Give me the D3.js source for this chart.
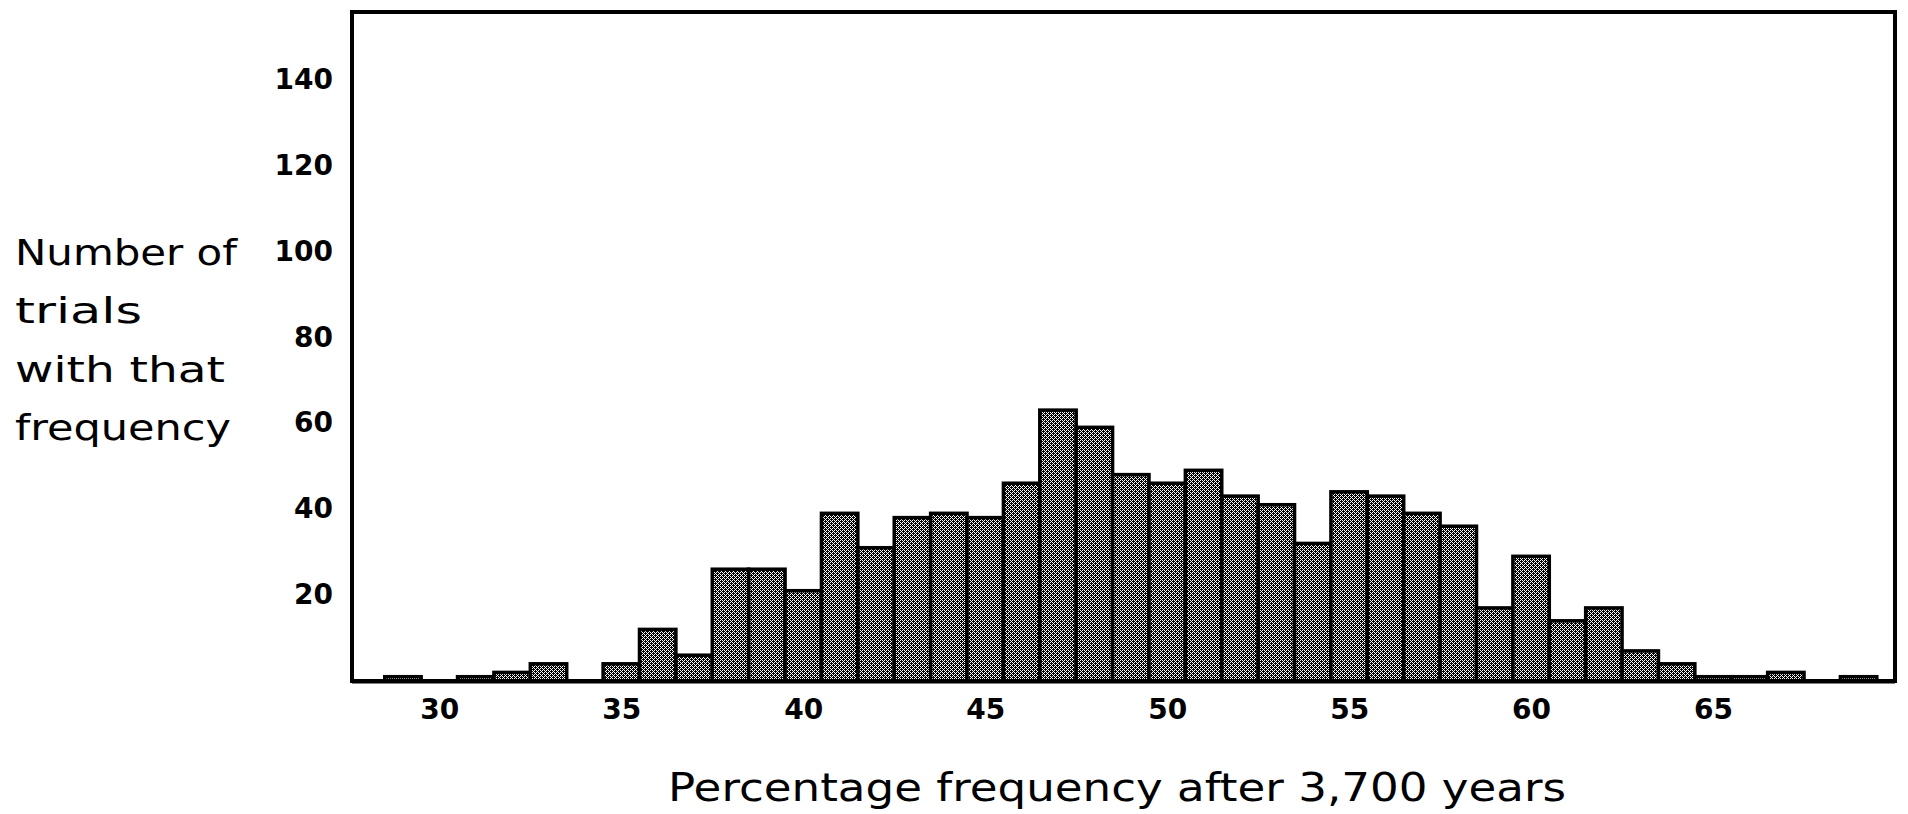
<!DOCTYPE html>
<html><head><meta charset="utf-8">
<script src="https://cdn.jsdelivr.net/npm/d3@7"></script>
<style>html,body{margin:0;padding:0;background:#fff;overflow:hidden}</style>
</head><body><svg id="chart" width="1908" height="814"></svg>
<script>
// ---- data ----
const binCenters = [28,29,30,31,32,33,34,35,36,37,38,39,40,41,42,43,44,45,46,47,48,49,50,51,52,53,54,55,56,57,58,59,60,61,62,63,64,65,66,67,68,69,70];
const trialCounts = [0,1,0,1,2,4,0,4,12,6,26,26,21,39,31,38,39,38,46,63,59,48,46,49,43,41,32,44,43,39,36,17,29,14,17,7,4,1,1,2,0,1,0];
const yTickValues = [20,40,60,80,100,120,140];
const xTickValues = [30,35,40,45,50,55,60,65];
const yTitleLines = ["Number of","trials","with that","frequency"];
const xTitle = "Percentage frequency after 3,700 years";

// ---- layout ----
const frame = {left:352, right:1895, top:12, bottom:681};
const svg = d3.select("#chart");
const x = d3.scaleLinear().domain([27.6, 70]).range([frame.left, frame.right]);
const y = d3.scaleLinear().domain([0, 155.6]).range([frame.bottom, frame.top]);

const defs = svg.append("defs");
const pat = defs.append("pattern").attr("id","dither")
  .attr("patternUnits","userSpaceOnUse").attr("width",4).attr("height",4);
pat.append("rect").attr("width",4).attr("height",4).attr("fill","#000");
const whitePix = [[0,0],[2,0],[3,1],[0,2],[2,2],[1,3]];
pat.selectAll("rect.w").data(whitePix).join("rect").attr("class","w")
  .attr("x",d=>d[0]).attr("y",d=>d[1]).attr("width",1).attr("height",1).attr("fill","#fff");

defs.append("clipPath").attr("id","plotclip").append("rect")
  .attr("x",frame.left).attr("y",frame.top)
  .attr("width",frame.right-frame.left).attr("height",frame.bottom-frame.top+3);

const data = binCenters.map((c,i)=>({c, v:trialCounts[i]}));

svg.append("g").attr("clip-path","url(#plotclip)")
  .selectAll("rect").data(data).join("rect")
  .attr("x", d=>x(d.c-0.5))
  .attr("width", d=>x(d.c+0.5)-x(d.c-0.5))
  .attr("y", d=>y(d.v))
  .attr("height", d=>y(0)-y(d.v))
  .attr("fill","url(#dither)")
  .attr("stroke","#000").attr("stroke-width",3.5);

// frame
svg.append("rect")
  .attr("x",frame.left).attr("y",frame.top)
  .attr("width",frame.right-frame.left).attr("height",frame.bottom-frame.top)
  .attr("fill","none").attr("stroke","#000").attr("stroke-width",4);
svg.append("line").attr("x1",frame.left).attr("x2",frame.right)
  .attr("y1",frame.bottom+1).attr("y2",frame.bottom+1)
  .attr("stroke","#000").attr("stroke-width",3);

const tickFont = "'DejaVu Sans', sans-serif";
// y axis
const yAxis = svg.append("g").attr("transform",`translate(${frame.left},0)`)
  .call(d3.axisLeft(y).tickValues(yTickValues).tickSize(0).tickPadding(19));
yAxis.select(".domain").remove();
yAxis.selectAll("text").attr("font-family",tickFont).attr("font-size",28)
  .attr("font-weight","bold").attr("fill","#000");

// x axis
const xAxis = svg.append("g").attr("transform",`translate(0,${frame.bottom})`)
  .call(d3.axisBottom(x).tickValues(xTickValues).tickSize(0).tickPadding(18));
xAxis.select(".domain").remove();
xAxis.selectAll("text").attr("font-family",tickFont).attr("font-size",28)
  .attr("font-weight","bold").attr("fill","#000");

// y title
const yTitleWidths = [222,127,210,216];
svg.append("g").selectAll("text").data(yTitleLines).join("text")
  .attr("x",15).attr("y",(d,i)=>265+i*58.4)
  .attr("font-family",tickFont).attr("font-size",36)
  .attr("textLength",(d,i)=>yTitleWidths[i]).attr("lengthAdjust","spacingAndGlyphs")
  .attr("fill","#000").text(d=>d);

// x title
svg.append("text").attr("x",668).attr("y",801)
  .attr("font-family",tickFont).attr("font-size",39)
  .attr("textLength",898).attr("lengthAdjust","spacingAndGlyphs")
  .attr("fill","#000").text(xTitle);
</script></body></html>
